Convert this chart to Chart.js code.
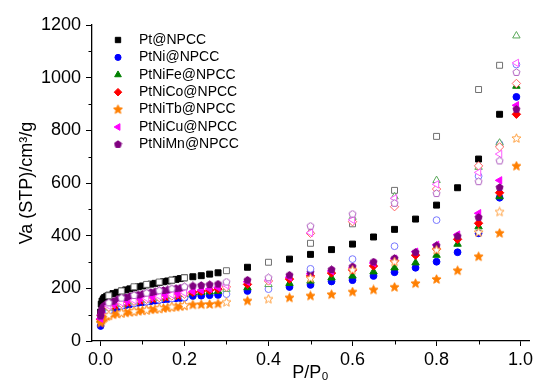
<!DOCTYPE html>
<html>
<head>
<meta charset="utf-8">
<script src="https://cdn.jsdelivr.net/npm/chart.js@4.4.1/dist/chart.umd.min.js"></script>
<style>
  html, body { margin: 0; padding: 0; background: #fff; }
  #wrap { width: 535px; height: 386px; position: relative; }
</style>
</head>
<body>
<div id="wrap"><canvas id="iso"></canvas></div>
<script>
const seriesNames = ['Pt@NPCC', 'PtNi@NPCC', 'PtNiFe@NPCC', 'PtNiCo@NPCC', 'PtNiTb@NPCC', 'PtNiCu@NPCC', 'PtNiMn@NPCC'];

// relative pressure P/P0 of the adsorption (filled) and desorption (open) points
const adsP = [0.0005, 0.002, 0.004, 0.007, 0.01, 0.015, 0.02, 0.03, 0.04, 0.05, 0.06, 0.07, 0.08, 0.09, 0.1,
  0.11, 0.12, 0.13, 0.14, 0.15, 0.16, 0.17, 0.18, 0.19, 0.2, 0.22, 0.24, 0.26, 0.28,
  0.35, 0.45, 0.5, 0.55, 0.6, 0.65, 0.7, 0.75, 0.8, 0.85, 0.9, 0.95, 0.99];
const desP = [0.99, 0.95, 0.9, 0.8, 0.7, 0.6, 0.5, 0.4, 0.3, 0.2, 0.17, 0.14, 0.11, 0.08, 0.05, 0.02];

// adsorbed volume, cm3/g
const ptAds = [110, 140, 152, 160, 165, 170, 174, 180, 185, 190, 194, 198, 202, 206, 209,
  213, 216, 219, 222, 225, 228, 231, 234, 237, 240, 244, 248, 254, 259,
  280, 311, 329, 347, 368, 395, 424, 463, 516, 582, 691, 861, null];
const niAds = [57, 75, 88, 97, 103, 108, 112, 120, 127, 133, 136, 139, 143, 145, 147,
  149, 151, 153, 156, 158, 159, 161, 162, 163, 164, 171, 172, 174, 175,
  190, 205, 213, 226, 231, 247, 261, 278, 301, 337, 409, 544, 927];
const feAds = [80, 95, 104, 111, 116, 121, 125, 131, 135, 139, 142, 145, 148, 150, 153,
  155, 158, 160, 162, 164, 166, 168, 170, 172, 175, 183, 185, 187, 189,
  203, 219, 228, 240, 247, 263, 278, 297, 326, 368, 434, 548, 968];
const coAds = [82, 97, 106, 113, 118, 123, 127, 133, 137, 141, 144, 147, 150, 152, 155,
  157, 160, 162, 164, 166, 168, 170, 172, 174, 176, 185, 189, 193, 197,
  215, 235, 247, 258, 270, 285, 305, 326, 349, 386, 447, 563, 861];
const tbAds = [68, 75, 80, 85, 89, 93, 96, 100, 103, 105, 107, 109, 111, 113, 115,
  117, 119, 120, 122, 124, 126, 128, 129, 131, 133, 137, 138, 139, 141,
  152, 164, 171, 176, 186, 194, 204, 218, 234, 267, 320, 409, 664];
const cuAds = [85, 100, 110, 118, 123, 128, 132, 138, 142, 145, 148, 151, 154, 156, 159,
  161, 164, 166, 169, 171, 173, 175, 177, 179, 181, 188, 193, 198, 203,
  225, 242, 255, 266, 277, 296, 312, 339, 365, 404, 485, 610, 895];
const mnAds = [95, 112, 122, 130, 135, 140, 144, 151, 157, 162, 165, 169, 172, 175, 178,
  181, 184, 187, 190, 192, 194, 196, 199, 201, 204, 209, 211, 214, 216,
  231, 250, 261, 271, 282, 300, 314, 337, 362, 398, 469, 583, 880];

const ptDes = [null, 1047, 955, 777, 572, 445, 371, 299, 267, 240, 231, 224, 215, 206, 190, 172];
const niDes = [1050, 748, 626, 459, 360, 311, 274, 197, 178, 166, 162, 157, 150, 144, 134, 113];
const feDes = [1159, 752, 660, 610, 548, 470, 415, 215, 197, 177, 170, 163, 156, 149, 140, 126];
const coDes = [978, 737, 665, 577, 510, 453, 409, 228, 205, 178, 171, 165, 158, 151, 142, 128];
const tbDes = [769, 490, 412, 345, 300, 269, 238, 159, 147, 135, 129, 123, 117, 112, 106, 97];
const cuDes = [1056, 710, 640, 595, 542, 460, 411, 231, 212, 183, 176, 170, 162, 155, 146, 133];
const mnDes = [1020, 684, 605, 560, 523, 482, 436, 240, 224, 206, 198, 191, 182, 173, 163, 145];

const xTicks = [0, 0.1, 0.2, 0.3, 0.4, 0.5, 0.6, 0.7, 0.8, 0.9, 1.0];
const yTicks = [0, 100, 200, 300, 400, 500, 600, 700, 800, 900, 1000, 1100, 1200];

const adsSets = [ptAds, niAds, feAds, coAds, tbAds, cuAds, mnAds];
const desSets = [ptDes, niDes, feDes, coDes, tbDes, cuDes, mnDes];

const FONT = '"Liberation Sans", Arial, sans-serif';

// star and pentagon are not chart.js point styles, so draw them on small canvases
function polyMarker(points, inner, size, fill, stroke) {
  const c = document.createElement('canvas');
  c.width = size; c.height = size;
  const g = c.getContext('2d');
  const r = size / 2 - 0.8;
  const n = inner ? points * 2 : points;
  g.beginPath();
  for (let k = 0; k < n; k++) {
    const a = -Math.PI / 2 + k * 2 * Math.PI / n;
    const rr = inner && k % 2 ? r * inner : r;
    g.lineTo(size / 2 + rr * Math.cos(a), size / 2 + rr * Math.sin(a));
  }
  g.closePath();
  g.fillStyle = fill;
  g.fill();
  g.strokeStyle = stroke;
  g.lineWidth = 1;
  g.stroke();
  return c;
}

const markers = [
  { filled: 'rect', open: 'rect', radius: 4.2, rotation: 0, color: '#000000', light: '#707070' },
  { filled: 'circle', open: 'circle', radius: 3.4, rotation: 0, color: '#0000ff', light: '#7878ff' },
  { filled: 'triangle', open: 'triangle', radius: 4.3, rotation: 0, color: '#008000', light: '#5aa85a' },
  { filled: 'rectRot', open: 'rectRot', radius: 4.2, rotation: 0, color: '#ff0000', light: '#ff6464' },
  { filled: polyMarker(5, 0.45, 11, '#ff7f00', '#ff7f00'), open: polyMarker(5, 0.45, 11, '#ffffff', '#ffa040'), radius: 5, rotation: 0, color: '#ff7f00', light: '#ffa040' },
  { filled: 'triangle', open: 'triangle', radius: 4.3, rotation: -90, color: '#ff00ff', light: '#ff5cff' },
  { filled: polyMarker(5, 0, 9, '#800080', '#800080'), open: polyMarker(5, 0, 9, '#ffffff', '#b060c0'), radius: 4.5, rotation: 0, color: '#800080', light: '#b060c0' }
];

function pairs(xs, ys) {
  return xs.map((x, i) => ({ x: x, y: ys[i] })).filter(p => p.y !== null);
}

let datasets = [];
seriesNames.forEach((name, i) => {
  const m = markers[i];
  datasets.push({
    label: name,
    data: pairs(adsP, adsSets[i]),
    pointStyle: m.filled,
    pointRadius: m.radius,
    pointRotation: m.rotation,
    pointBackgroundColor: m.color,
    pointBorderColor: m.color,
    pointBorderWidth: 1,
    showLine: false,
    order: 20 - i
  });
  datasets.push({
    label: name + ' des',
    data: pairs(desP, desSets[i]),
    pointStyle: m.open,
    pointRadius: m.radius,
    pointRotation: m.rotation,
    pointBackgroundColor: '#ffffff',
    pointBorderColor: m.light,
    pointBorderWidth: 1,
    showLine: false,
    order: 10 - i
  });
});

function isMajor(value, step) {
  return Math.abs(Math.round(value / step) * step - value) < 1e-6;
}

// minor ticks are shorter than the major ones
const minorTicks = {
  id: 'minorTicks',
  afterDraw(chart) {
    const ctx = chart.ctx;
    const xs = chart.scales.x, ys = chart.scales.y;
    ctx.save();
    ctx.strokeStyle = '#000';
    ctx.lineWidth = 1;
    ctx.beginPath();
    xTicks.filter(v => !isMajor(v, 0.2)).forEach(v => {
      const px = Math.round(xs.getPixelForValue(v)) + 0.5;
      ctx.moveTo(px, xs.top);
      ctx.lineTo(px, xs.top + 3.5);
    });
    yTicks.filter(v => !isMajor(v, 200)).forEach(v => {
      const py = Math.round(ys.getPixelForValue(v)) + 0.5;
      ctx.moveTo(ys.right, py);
      ctx.lineTo(ys.right - 3.5, py);
    });
    ctx.stroke();
    ctx.restore();
  }
};

const insideLegend = {
  id: 'insideLegend',
  afterDraw(chart) {
    const ctx = chart.ctx;
    ctx.save();
    ctx.font = '14px ' + FONT;
    ctx.textBaseline = 'middle';
    seriesNames.forEach((name, i) => {
      const y = 40 + i * 17.4;
      const m = markers[i];
      ctx.fillStyle = m.color;
      ctx.strokeStyle = m.color;
      ctx.lineWidth = 1;
      Chart.helpers.drawPoint(ctx, { pointStyle: m.filled, rotation: m.rotation, radius: m.radius * 0.9, borderWidth: 1 }, 118, y);
      ctx.fillStyle = '#000';
      ctx.fillText(name, 139, y);
    });
    ctx.restore();
  }
};

const ctx = document.getElementById('iso').getContext('2d');
const chart = new Chart(ctx, {
  type: 'scatter',
  data: { datasets: datasets },
  plugins: [minorTicks, insideLegend],
  options: {
    animation: false,
    responsive: true,
    maintainAspectRatio: false,
    devicePixelRatio: 1,
    layout: { padding: { top: 25, right: 5, left: 0, bottom: 0 } },
    plugins: {
      legend: { display: false },
      tooltip: { enabled: false }
    },
    scales: {
      x: {
        type: 'linear',
        min: -0.02,
        max: 1.02,
        afterBuildTicks: (scale) => { scale.ticks = xTicks.map(v => ({ value: v })); },
        afterFit: (scale) => { scale.height = 45; scale.paddingLeft = 0; scale.paddingRight = 0; },
        ticks: {
          autoSkip: false,
          maxRotation: 0,
          padding: 3,
          color: '#000',
          font: { family: FONT, size: 18 },
          callback: (v) => (isMajor(v, 0.2) ? v.toFixed(1) : '')
        },
        grid: {
          display: true, drawOnChartArea: false, drawTicks: true, tickLength: 5, tickWidth: 1,
          tickColor: (c) => (c.tick && isMajor(c.tick.value, 0.2) ? '#000' : 'rgba(0,0,0,0)')
        },
        border: { display: true, color: '#000', width: 1.3 },
        title: { display: true, text: 'P/P\u2080', color: '#000', font: { family: FONT, size: 18 }, padding: { top: 0, bottom: 2 } }
      },
      y: {
        type: 'linear',
        min: 0,
        max: 1200,
        afterBuildTicks: (scale) => { scale.ticks = yTicks.map(v => ({ value: v })); },
        afterFit: (scale) => { scale.width = 92; },
        ticks: {
          autoSkip: false,
          padding: 5,
          color: '#000',
          font: { family: FONT, size: 18 },
          callback: (v) => (isMajor(v, 200) ? String(v) : '')
        },
        grid: {
          display: true, drawOnChartArea: false, drawTicks: true, tickLength: 6, tickWidth: 1,
          tickColor: (c) => (c.tick && isMajor(c.tick.value, 200) ? '#000' : 'rgba(0,0,0,0)')
        },
        border: { display: true, color: '#000', width: 1.3 },
        title: { display: true, text: 'Va (STP)/cm\u00b3/g', color: '#000', font: { family: FONT, size: 18 }, padding: { top: 16, bottom: 0 } }
      }
    }
  }
});
</script>
</body>
</html>
